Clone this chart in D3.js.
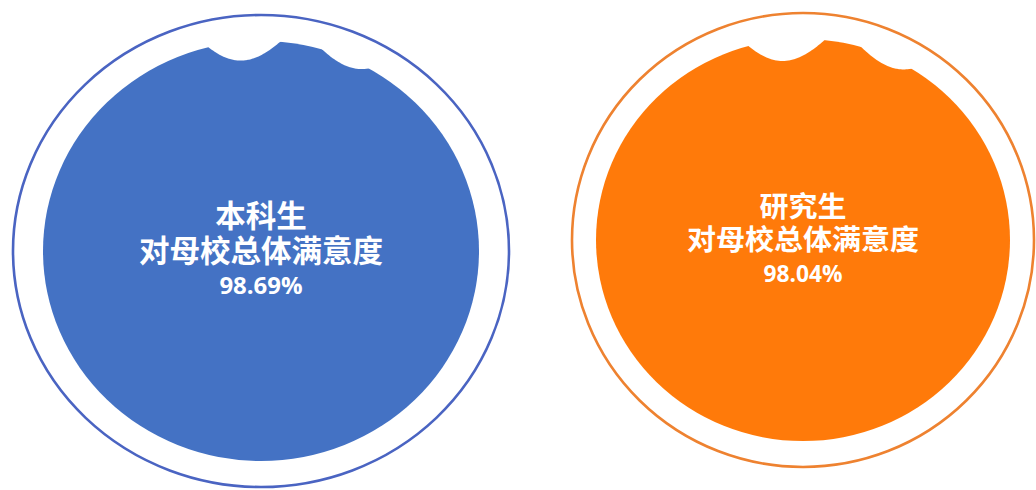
<!DOCTYPE html>
<html>
<head>
<meta charset="utf-8">
<script src="https://cdn.jsdelivr.net/npm/d3@7/dist/d3.min.js"></script>
<style>
  html, body { margin: 0; padding: 0; background: #ffffff; }
  svg { display: block; }
</style>
</head>
<body>
<svg id="chart" width="1036" height="490"></svg>
<script>
// ---- data ----
const categories = ["本科生", "研究生"];
const values = [98.69, 98.04];
const subtitle = "对母校总体满意度";
const fillColors = ["#4472C4", "#FF7A0A"];
const ringColors = ["#4A64C2", "#EE8230"];

// ---- layout (per gauge geometry) ----
const gauges = [
  { cx: 261, cy: 251, orx: 248, ory: 236, irx: 218, iry: 210 },
  { cx: 803, cy: 240, orx: 231, ory: 227, irx: 207, iry: 201 }
];

const svg = d3.select("#chart");
const defs = svg.append("defs");

categories.forEach((cat, i) => {
  const g = gauges[i];
  const v = values[i];
  const grp = svg.append("g");

  // outer ring
  grp.append("ellipse")
    .attr("cx", g.cx).attr("cy", g.cy)
    .attr("rx", g.orx).attr("ry", g.ory)
    .attr("fill", "none")
    .attr("stroke", ringColors[i])
    .attr("stroke-width", 2.6);

  // clip for liquid
  const clipId = "clip" + i;
  defs.append("clipPath").attr("id", clipId)
    .append("ellipse")
    .attr("cx", g.cx).attr("cy", g.cy)
    .attr("rx", g.irx).attr("ry", g.iry);

  // level scale
  const yLevel = d3.scaleLinear().domain([0, 100]).range([g.cy + g.iry, g.cy - g.iry]);
  const trough = yLevel(v) + 14;   // wave trough depth below the level line
  const H = 40;                    // crest-to-trough height of the wave
  const period = 121;
  const tilt = 0.07;
  const phase = g.cx - 23;         // trough position
  const xs = d3.range(g.cx - g.irx - 5, g.cx + g.irx + 6, 1);
  const area = d3.area()
    .x(d => d)
    .y0(g.cy + g.iry + 5)
    .y1(d => trough + tilt * (d - phase)
              - H * (1 - Math.abs(Math.cos(Math.PI * (d - phase) / period))));

  grp.append("path")
    .datum(xs)
    .attr("d", area)
    .attr("fill", fillColors[i])
    .attr("clip-path", "url(#" + clipId + ")");

  // texts (one multi-line label)
  const fs = g.irx * 0.14;
  const fsPct = g.irx * 0.11;
  const step = g.iry * 0.166;
  const font = "'Noto Sans CJK SC', 'Noto Sans', sans-serif";
  const t = grp.append("text").attr("fill", "#ffffff").attr("font-weight", "bold")
    .attr("text-anchor", "middle").attr("font-family", font)
    .attr("x", g.cx).attr("y", g.cy - step + fs * 0.36);
  t.append("tspan").attr("x", g.cx).attr("font-size", fs).text(cat);
  t.append("tspan").attr("x", g.cx).attr("dy", step).attr("font-size", fs).text(subtitle);
  t.append("tspan").attr("x", g.cx).attr("dy", step - fs * 0.36 + fsPct * 0.36)
    .attr("font-size", fsPct)
    .attr("font-family", "'Open Sans', 'Noto Sans', sans-serif")
    .text(d3.format(".2f")(v) + "%");
});
</script>
</body>
</html>
